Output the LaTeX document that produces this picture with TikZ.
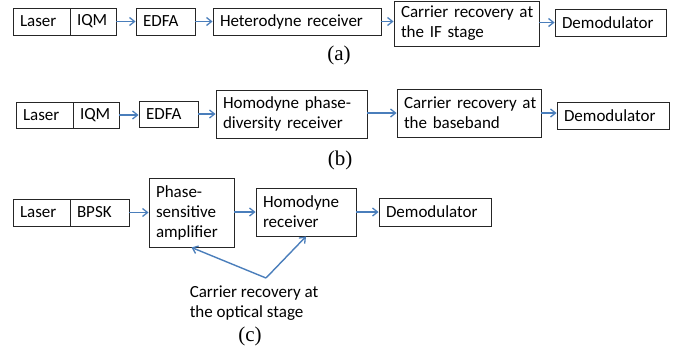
\documentclass[tikz,border=0pt]{standalone}
\usepackage{fontspec}
\setmainfont{Carlito}
\newfontfamily\capfont{Liberation Serif}
\usetikzlibrary{arrows.meta}
\definecolor{arrowblue}{RGB}{74,126,187}
\begin{document}
\begin{tikzpicture}[x=1pt,y=-1pt,
  blk/.style={draw=black!85,line width=0.9pt,inner xsep=7pt,inner ysep=0pt,align=left,
    font=\fontsize{17}{20}\selectfont},
  bw/.style={minimum width=#1,text width=#1-14pt},
  flow/.style={draw=arrowblue,line width=1.4pt,-{Straight Barb[length=5pt,width=8pt,line width=1.3pt]}},
  captxt/.style={font=\capfont\fontsize{21}{23}\selectfont},
  lbl/.style={align=left,font=\fontsize{17}{20}\selectfont}]
\useasboundingbox (0,0) rectangle (687,354);
% (a)
\node[blk,bw=57pt,minimum height=27pt] (laserA) at (41.5,21.5) {\mbox{Laser}};
\node[blk,bw=46pt,minimum height=27pt] (iqmA) at (93,21.5) {\mbox{IQM}};
\node[blk,bw=59pt,minimum height=27pt] (edfaA) at (165.5,21.5) {\mbox{EDFA}};
\node[blk,bw=168pt,minimum height=27pt] (hetA) at (297,21.5) {\mbox{Heterodyne receiver}};
\node[blk,bw=145pt,minimum height=45pt] (crA) at (466.5,23.5) {\mbox{Carrier recovery at}\\\mbox{the IF stage}};
\node[blk,bw=111pt,minimum height=27pt] (demA) at (610.5,22.5) {\mbox{Demodulator}};
\draw[flow] (iqmA.east) -- (edfaA.west);
\draw[flow] (edfaA.east) -- (hetA.west);
\draw[flow] (hetA.east) -- (hetA.east -| crA.west);
\draw[flow] (crA.east |- demA.west) -- (demA.west);
\node[captxt] (capA) at (339,55) {(a)};
% (b)
\node[blk,bw=57pt,minimum height=26pt] (laserB) at (44.5,115) {\mbox{Laser}};
\node[blk,bw=46pt,minimum height=26pt] (iqmB) at (96,115) {\mbox{IQM}};
\node[blk,bw=59pt,minimum height=26pt] (edfaB) at (168.5,114) {\mbox{EDFA}};
\node[blk,bw=151pt,minimum height=48pt] (homB) at (291.5,114) {\mbox{Homodyne phase-}\\\mbox{diversity receiver}};
\node[blk,bw=144pt,minimum height=48pt] (crB) at (469,113) {\mbox{Carrier recovery at}\\\mbox{the baseband}};
\node[blk,bw=112pt,minimum height=27pt] (demB) at (613,115.5) {\mbox{Demodulator}};
\draw[flow] (iqmB.east) -- (iqmB.east -| edfaB.west);
\draw[flow] (edfaB.east |- homB.west) -- (homB.west);
\draw[flow] (homB.east |- crB.west) -- (crB.west);
\draw[flow] (crB.east) -- (crB.east -| demB.west);
\node[captxt] (capB) at (340,160) {(b)};
% (c)
\node[blk,bw=57pt,minimum height=27pt] (laserC) at (41.5,212.5) {\mbox{Laser}};
\node[blk,bw=59pt,minimum height=27pt] (bpskC) at (99.5,212.5) {\mbox{BPSK}};
\node[blk,bw=85pt,minimum height=69pt] (psaC) at (191.5,212.5) {\mbox{Phase-}\\\mbox{sensitive}\\\mbox{amplifier}};
\node[blk,bw=100pt,minimum height=48pt] (hrC) at (306,212) {\mbox{Homodyne}\\\mbox{receiver}};
\node[blk,bw=112pt,minimum height=28pt] (demC) at (435,212) {\mbox{Demodulator}};
\draw[flow] (bpskC.east) -- (psaC.west |- bpskC.east);
\draw[flow] (psaC.east |- hrC.west) -- (hrC.west);
\draw[flow] (hrC.east) -- (demC.west);
\coordinate (apex) at (266,278);
\draw[flow] (apex) -- (psaC.south);
\draw[flow] (apex) -- (hrC.south);
\node[lbl] (crC) at (254,303) {Carrier recovery at\\the optical stage};
\node[captxt] (capC) at (250,336) {(c)};
\end{tikzpicture}
\end{document}
